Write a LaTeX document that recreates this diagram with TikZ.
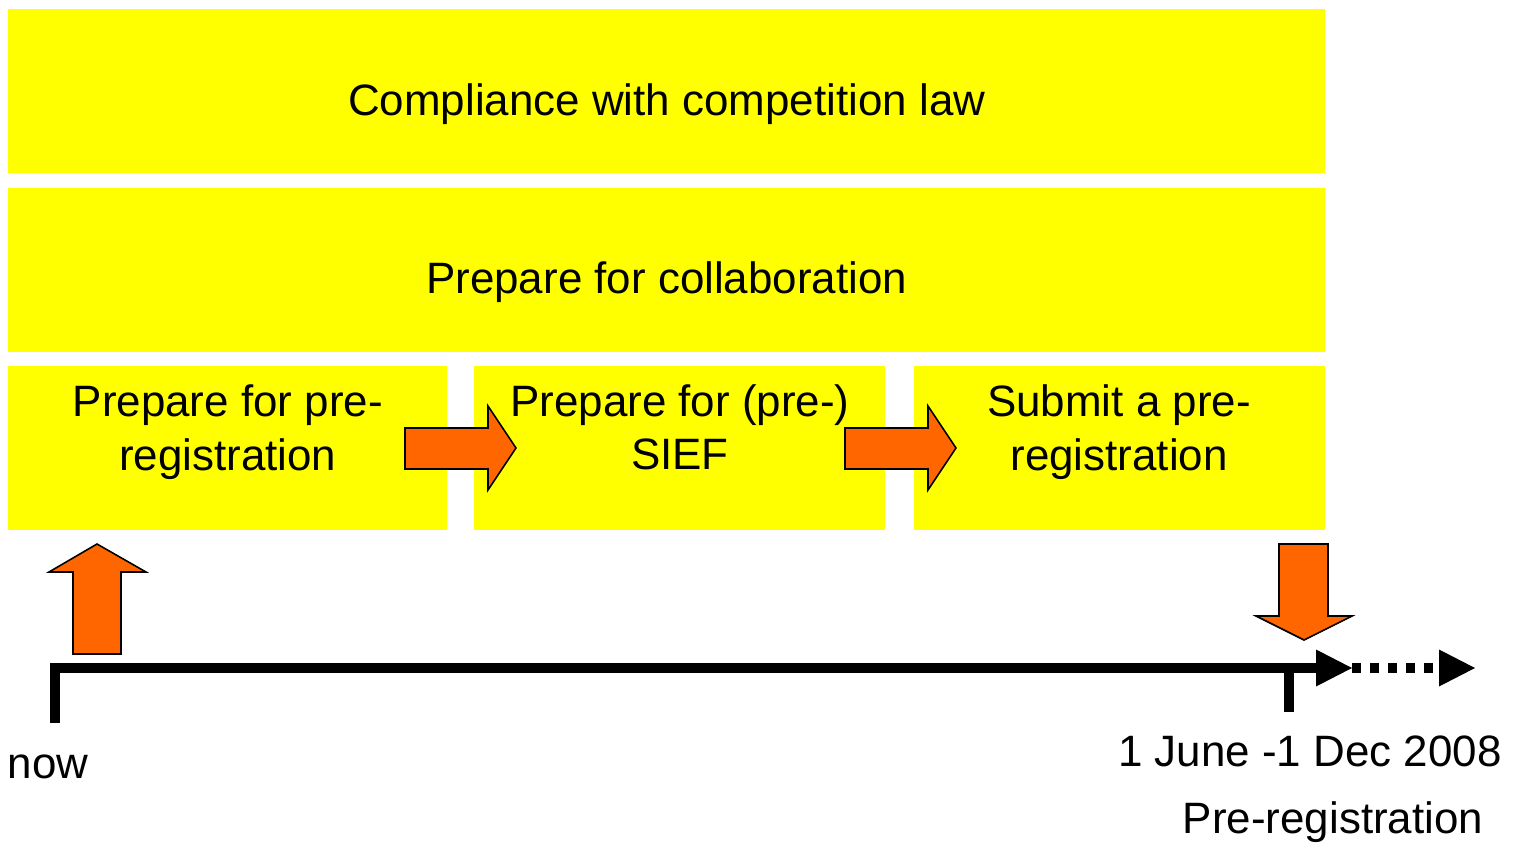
\documentclass[tikz,border=0pt]{standalone}
\usepackage{fontspec}
\setmainfont{Liberation Sans}
\usetikzlibrary{positioning,arrows.meta}
\definecolor{bandyellow}{HTML}{FFFF00}
\definecolor{arroworange}{HTML}{FF6600}
\tikzset{
  band/.style={fill=bandyellow, inner sep=0pt, minimum height=3.28cm},
  bandtext/.style={font=\fontsize{25}{30.5}\selectfont, align=center, inner sep=0pt},
  blockarrow/.style={fill=arroworange, draw=black, line width=0.9pt, line join=miter},
  timeline/.style={line width=0.2cm, line join=miter},
  bigtip/.tip={Triangle[length=0.72cm, width=0.74cm, line width=0pt]}
}

\begin{document}
\begin{tikzpicture}[x=0.02cm, y=-0.02cm]
  \useasboundingbox (0,0) rectangle (1518,844);
  % yellow bands
  \node[band, minimum width=26.34cm, anchor=north west] (law) at (8,9) {};
  \node[band, minimum width=26.34cm, below right=0.28cm and 0cm of law.south west] (collab) {};
  \node[band, minimum width=8.78cm, below right=0.27cm and 0cm of collab.south west] (prep) {};
  \node[band, minimum width=8.22cm, right=0.53cm of prep] (sief) {};
  \node[band, minimum width=8.22cm, right=0.55cm of sief] (submit) {};
  \node[bandtext, anchor=base] (lawtext) at ([yshift=-0.48cm]law.center) {Compliance with competition law};
  \node[bandtext, anchor=base] (collabtext) at ([yshift=-0.48cm]collab.center) {Prepare for collaboration};
  \node[bandtext] (preptext) at ([yshift=0.32cm]prep.center) {Prepare for pre-\\registration};
  \node[bandtext] (sieftext) at ([yshift=0.42cm]sief.center) {Prepare for (pre-)\\SIEF};
  \node[bandtext] (submittext) at ([yshift=0.32cm]submit.center) {Submit a pre-\\registration};
  % block arrows
  \draw[blockarrow] (405,428) -- (488,428) -- (488,406) -- (516,448) -- (488,490) -- (488,469) -- (405,469) -- cycle;
  \draw[blockarrow] (845,428) -- (928,428) -- (928,406) -- (956,448) -- (928,490) -- (928,469) -- (845,469) -- cycle;
  \draw[blockarrow] (73,654) -- (73,572) -- (49,572) -- (97,544) -- (146,572) -- (121,572) -- (121,654) -- cycle;
  \draw[blockarrow] (1279,544) -- (1328,544) -- (1328,616) -- (1352,616) -- (1304,640) -- (1256,616) -- (1279,616) -- cycle;
  % time line
  \coordinate (now) at (55,723);
  \coordinate (corner) at (55,668);
  \coordinate (tick) at (1289,668);
  \coordinate (tickend) at (1289,712);
  \coordinate (prereg) at (1352,668);
  \coordinate (later) at (1475,668);
  \draw[timeline, -bigtip] (now) -- (corner) -- (prereg);
  \draw[timeline] (tick) -- (tickend);
  \draw[timeline, dash pattern=on 0.18cm off 0.18cm, -bigtip] (prereg) -- (later);
  \node[bandtext, anchor=base] (nowlabel) at (48,778) {now};
  \node[bandtext, anchor=base] (datelabel) at (1310,766) {1 June -1 Dec 2008};
  \node[bandtext, anchor=base] (preglabel) at (1333,833) {Pre-registration};
\end{tikzpicture}
\end{document}
